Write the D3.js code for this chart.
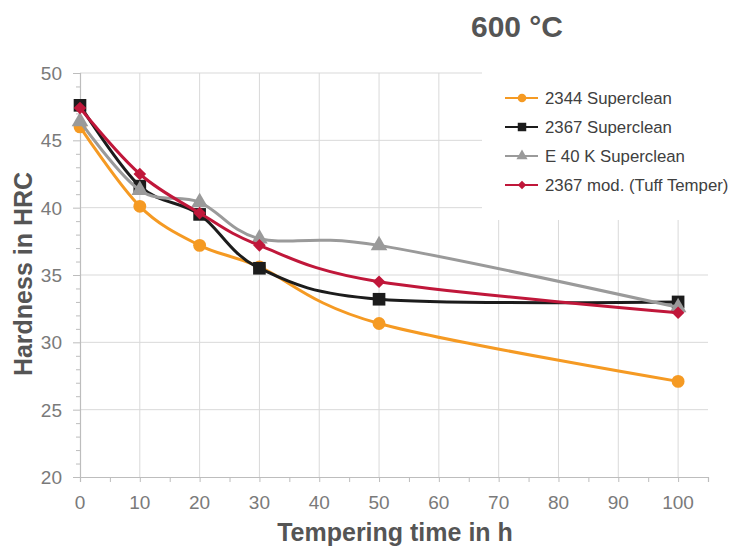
<!DOCTYPE html>
<meta charset="utf-8">
<style>
  body { margin: 0; background: #fff; }
  text { font-family: Arial, "Liberation Sans", sans-serif; }
  .grid line { stroke: #d9d9d9; stroke-width: 1; }
  .tick-label { fill: #7a7a7a; font-size: 19px; }
  .axis-title { fill: #555; font-size: 25px; font-weight: bold; }
  .legend text { fill: #404040; font-size: 16.8px; }
</style>
<body>
<script src="https://d3js.org/d3.v7.min.js"></script>
<script>
// chart data
const hours = [0, 10, 20, 30, 50, 100];
const names = ["2344 Superclean", "2367 Superclean", "E 40 K Superclean", "2367 mod. (Tuff Temper)"];
const hrc2344 = [46.0, 40.1, 37.2, 35.6, 31.4, 27.1];
const hrc2367 = [47.6, 41.6, 39.5, 35.5, 33.2, 33.0];
const hrcE40K = [46.4, 41.3, 40.4, 37.7, 37.2, 32.6];
const hrcTuff = [47.4, 42.5, 39.6, 37.2, 34.5, 32.2];
const xTicks = [0, 10, 20, 30, 40, 50, 60, 70, 80, 90, 100];
const yTicks = [20, 25, 30, 35, 40, 45, 50];

const colors = ["#f59a23", "#1c1c1c", "#9a9a9a", "#c0173a"];
// diamond = square turned 45 degrees
const symbols = [d3.symbolCircle, d3.symbolSquare, d3.symbolTriangle, d3.symbolSquare];
const turns = [0, 0, 0, 45];
const sizes = [130, 160, 120, 80];

const series = [hrc2344, hrc2367, hrcE40K, hrcTuff].map((v, i) => ({
  name: names[i], color: colors[i], symbol: symbols[i], size: sizes[i], turn: turns[i],
  values: v.map((y, j) => ({x: hours[j], y: y}))
}));

const width = 730, height = 548;
const svg = d3.select("body").append("svg")
  .attr("width", width).attr("height", height);

const x = d3.scaleLinear().domain([0, 105]).range([80, 708]);
const y = d3.scaleLinear().domain([20, 50]).range([477, 73]);

// grid
const grid = svg.append("g").attr("class", "grid");
grid.selectAll(".h").data(yTicks.slice(1)).enter().append("line")
  .attr("x1", x(0)).attr("x2", x(105))
  .attr("y1", d => y(d)).attr("y2", d => y(d));
grid.selectAll(".v").data(xTicks.slice(1)).enter().append("line")
  .attr("x1", d => x(d)).attr("x2", d => x(d))
  .attr("y1", y(50)).attr("y2", y(20));

// axes
const yAxis = svg.append("g").attr("transform", `translate(${x(0)},0)`)
  .call(d3.axisLeft(y).ticks(30).tickSize(4).tickFormat(""));
yAxis.selectAll(".tick line").attr("x2", d => d % 5 === 0 ? -7 : -4);
const xAxis = svg.append("g").attr("transform", `translate(0,${y(20)})`)
  .call(d3.axisBottom(x).tickValues(d3.range(0, 106, 5)).tickSize(5).tickFormat(""));
[yAxis, xAxis].forEach(a => {
  a.select(".domain").attr("stroke", "#bdbdbd").attr("stroke-width", 1.2);
  a.selectAll(".tick line").attr("stroke", "#bdbdbd");
});

svg.append("g").selectAll("text").data(yTicks).enter().append("text")
  .attr("class", "tick-label")
  .attr("x", 62).attr("y", d => y(d)).attr("dy", "0.36em")
  .attr("text-anchor", "end").text(d => d);
svg.append("g").selectAll("text").data(xTicks).enter().append("text")
  .attr("class", "tick-label")
  .attr("x", d => x(d)).attr("y", 509)
  .attr("text-anchor", "middle").text(d => d);

// legend background hides grid
svg.append("rect").attr("x", 482).attr("y", 55).attr("width", 248).attr("height", 165)
  .attr("fill", "#fff");

// lines
const line = d3.line().x(d => x(d.x)).y(d => y(d.y)).curve(d3.curveCatmullRom.alpha(0));
const sg = svg.append("g").selectAll("g").data(series).enter().append("g");
sg.append("path")
  .attr("d", d => line(d.values))
  .attr("fill", "none").attr("stroke", d => d.color).attr("stroke-width", 3);
sg.each(function(s) {
  d3.select(this).selectAll(".pt").data(s.values).enter().append("path")
    .attr("transform", d => `translate(${x(d.x)},${y(d.y)}) rotate(${s.turn})`)
    .attr("d", d3.symbol().type(s.symbol).size(s.size))
    .attr("fill", s.color);
});

// legend
const lg = svg.append("g").attr("class", "legend").selectAll("g").data(series).enter().append("g")
  .attr("transform", (d, i) => `translate(505,${98 + i * 29})`);
lg.append("line").attr("x1", 0).attr("x2", 33)
  .attr("stroke", d => d.color).attr("stroke-width", 2.2);
lg.append("path").attr("transform", d => `translate(17,0) rotate(${d.turn})`)
  .attr("d", d => d3.symbol().type(d.symbol).size(d.size * 0.45)())
  .attr("fill", d => d.color);
lg.append("text").attr("x", 40).attr("dy", "0.36em").text(d => d.name);

// titles
svg.append("text").attr("x", 517).attr("y", 37).attr("text-anchor", "middle")
  .attr("fill", "#555").attr("font-size", 30).attr("font-weight", "bold").text("600 °C");
svg.append("text").attr("class", "axis-title")
  .attr("x", 395).attr("y", 541).attr("text-anchor", "middle").text("Tempering time in h");
svg.append("text").attr("class", "axis-title")
  .attr("transform", "translate(32,274) rotate(-90)").attr("text-anchor", "middle")
  .text("Hardness in HRC");
</script>
</body>
